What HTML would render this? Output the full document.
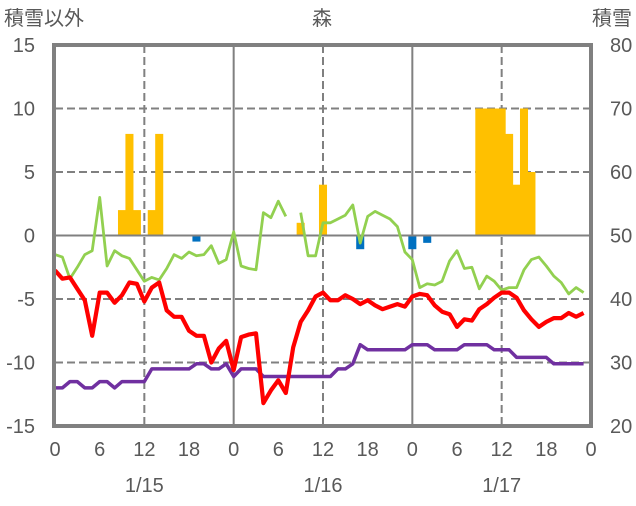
<!DOCTYPE html>
<html><head><meta charset="utf-8">
<style>
body{margin:0;background:#fff;}
svg text{font-family:"Liberation Sans","Noto Sans CJK JP",sans-serif;fill:#595959;font-size:20px;}
</style></head>
<body>
<svg id="chart" width="636" height="501" xmlns="http://www.w3.org/2000/svg"></svg>
<script>
const hours = Array.from({length:72},(_,i)=>i);
const greenVals = [-1.5,-1.7,-3.4,-2.5,-1.5,-1.2,3.0,-2.4,-1.2,-1.6,-1.8,-2.7,-3.6,-3.3,-3.5,-2.6,-1.5,-1.8,-1.3,-1.6,-1.5,-0.8,-2.2,-1.9,0.3,-2.4,-2.6,-2.7,1.8,1.4,2.7,1.5,null,1.8,-1.6,-1.6,1.0,1.0,1.3,1.6,2.4,-0.6,1.5,1.9,1.6,1.3,0.7,-1.3,-1.9,-4.1,-3.8,-3.9,-3.6,-2.0,-1.2,-2.6,-2.5,-4.2,-3.2,-3.6,-4.3,-4.1,-4.1,-2.7,-1.9,-1.7,-2.4,-3.2,-3.7,-4.6,-4.1,-4.5];
const redVals = [-2.75,-3.4,-3.3,-4.2,-5.1,-7.9,-4.5,-4.5,-5.3,-4.7,-3.7,-3.8,-5.2,-4.1,-3.7,-5.9,-6.4,-6.4,-7.5,-7.9,-7.9,-10.0,-8.9,-8.3,-10.6,-8.0,-7.8,-7.7,-13.2,-12.2,-11.4,-12.4,-8.8,-6.8,-5.9,-4.8,-4.5,-5.1,-5.1,-4.7,-5.0,-5.4,-5.1,-5.5,-5.8,-5.6,-5.4,-5.6,-4.8,-4.6,-4.7,-5.5,-6.0,-6.2,-7.2,-6.6,-6.7,-5.8,-5.4,-4.9,-4.5,-4.5,-4.9,-5.9,-6.6,-7.2,-6.8,-6.5,-6.5,-6.1,-6.4,-6.1];
const purpleVals = [-12,-12,-11.5,-11.5,-12,-12,-11.5,-11.5,-12,-11.5,-11.5,-11.5,-11.5,-10.5,-10.5,-10.5,-10.5,-10.5,-10.5,-10.1,-10.1,-10.5,-10.5,-10.1,-11.1,-10.5,-10.5,-10.5,-11.1,-11.1,-11.1,-11.1,-11.1,-11.1,-11.1,-11.1,-11.1,-11.1,-10.5,-10.5,-10.1,-8.6,-9,-9,-9,-9,-9,-9,-8.6,-8.6,-8.6,-9,-9,-9,-9,-8.6,-8.6,-8.6,-8.6,-9,-9,-9,-9.6,-9.6,-9.6,-9.6,-9.6,-10.1,-10.1,-10.1,-10.1,-10.1];
const barHours = [9,10,11,13,14,19,33,36,41,48,50,57,58,59,60,61,62,63,64];
const barVals = [2,8,2,2,8,-0.4,1,4,-1,-1,-0.5,10,10,10,10,8,4,10,5];
const leftTicks = [15,10,5,0,-5,-10,-15];
const rightTicks = [80,70,60,50,40,30,20];
const xTickLabels = ["0","6","12","18","0","6","12","18","0","6","12","18","0"];
const dayLabels = ["1/15","1/16","1/17"];

const svg = document.getElementById('chart');
const NS = "http://www.w3.org/2000/svg";
const X0=55, X1=591, Y0=45, Y1=426;
const xs = h => X0 + h*(X1-X0)/72;
const ys = v => Y0 + (15-v)*(Y1-Y0)/30;
function mk(tag, attrs){const e=document.createElementNS(NS,tag);for(const k in attrs)e.setAttribute(k,attrs[k]);svg.appendChild(e);return e;}

leftTicks.forEach(v=>{
  if(v===15||v===-15) return;
  const g = mk('line',{x1:X0,x2:X1,y1:ys(v),y2:ys(v),stroke:'#808080','stroke-width':2,'stroke-dasharray':v===0?'none':'8,4'});
  
  
});
for(let h=12;h<72;h+=12){
  const g = mk('line',{x1:xs(h),x2:xs(h),y1:Y0,y2:Y1,stroke:'#808080','stroke-width':2,'stroke-dasharray':h%24===0?'none':'8,4'});
  
  
}
const bw = (X1-X0)/72;
barHours.forEach((h,i)=>{
  const v = barVals[i];
  const y = Math.min(ys(v), ys(0)), hgt = Math.abs(ys(v)-ys(0));
  const r = mk('rect',{x:xs(h)-bw/2-0.3,y:v>0?y:ys(0)+1,width:bw+0.6,height:v>0?hgt-1:hgt,fill:v>0?'#FFC000':'#0070C0'});
  
  
});
function line(vals,color,name,w){
  let d='',pen=false;
  vals.forEach((v,i)=>{ if(v===null){pen=false;return;} d+=(pen?'L':'M')+xs(hours[i]).toFixed(1)+','+ys(v).toFixed(1)+' '; pen=true;});
  const p = mk('path',{d:d,fill:'none',stroke:color,'stroke-width':w,'stroke-linejoin':'round'});
  
  
}
line(greenVals,'#92D050','green-series',2.8);
line(purpleVals,'#7030A0','purple-series',3.5);
line(redVals,'#FF0000','red-series',4.2);
const f = mk('rect',{x:X0-1,y:Y0,width:X1-X0+1,height:Y1-Y0,fill:'none',stroke:'#808080','stroke-width':4});


leftTicks.forEach(v=>{
  const t = mk('text',{x:35,y:ys(v)+7,'text-anchor':'end'}); t.textContent=v;
  
  
});
rightTicks.forEach((v,i)=>{
  const t = mk('text',{x:610,y:ys(leftTicks[i])+7}); t.textContent=v;
  
  
});
xTickLabels.forEach((s,i)=>{
  const t = mk('text',{x:xs(i*6),y:456,'text-anchor':'middle'}); t.textContent=s;
  
  
});
dayLabels.forEach((s,i)=>{
  const t = mk('text',{x:xs(12+24*i),y:492,'text-anchor':'middle'}); t.textContent=s;
  
  
});
const titles=[["積雪以外",4,'start','left-axis-title'],["森",322,'middle','chart-title'],["積雪",632,'end','right-axis-title']];
titles.forEach(a=>{
  const t = mk('text',{x:a[1],y:25,'text-anchor':a[2]}); t.textContent=a[0];
  
  
});
</script>
</body></html>
